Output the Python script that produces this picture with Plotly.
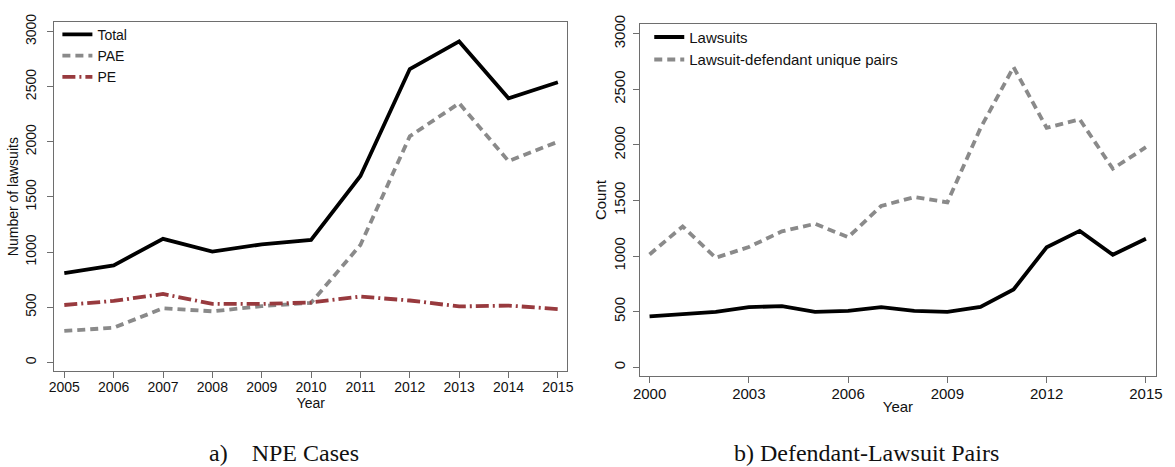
import plotly.graph_objects as go

# Panel a) NPE cases by filing year
years_a = [2005, 2006, 2007, 2008, 2009, 2010, 2011, 2012, 2013, 2014, 2015]
total = [810, 880, 1120, 1005, 1070, 1110, 1690, 2660, 2910, 2395, 2540]
pae = [285, 314, 490, 463, 510, 540, 1065, 2050, 2350, 1825, 2000]
pe = [520, 557, 620, 531, 530, 543, 596, 561, 507, 515, 483]

# Panel b) lawsuits vs. lawsuit-defendant pairs
years_b = list(range(2000, 2016))
lawsuits = [459, 479, 499, 541, 550, 499, 508, 541, 508, 499, 543, 700, 1080, 1227, 1012, 1156]
pairs = [1015, 1267, 985, 1082, 1223, 1291, 1170, 1451, 1531, 1484, 2151, 2700, 2154, 2230, 1786, 1980]

yticks = [0, 500, 1000, 1500, 2000, 2500, 3000]
xticks_b = [2000, 2003, 2006, 2009, 2012, 2015]

FONT = "Liberation Sans, Arial, sans-serif"
SERIF = "Liberation Serif, serif"
BLACK = "#000000"
GRAY = "#8a8a8a"
MAROON = "#983a3e"
AXIS = "#6e6e6e"
TEXT = "#111111"
LW = 3.8
W = 1175
H = 467

fig = go.Figure()

fig.add_trace(go.Scatter(x=years_a, y=total, mode="lines", name="Total",
                         line=dict(color=BLACK, width=LW), xaxis="x", yaxis="y",
                         legend="legend"))
fig.add_trace(go.Scatter(x=years_a, y=pae, mode="lines", name="PAE",
                         line=dict(color=GRAY, width=LW, dash="8px,5px"),
                         xaxis="x", yaxis="y", legend="legend"))
fig.add_trace(go.Scatter(x=years_a, y=pe, mode="lines", name="PE",
                         line=dict(color=MAROON, width=LW, dash="13px,4px,2px,4px"),
                         xaxis="x", yaxis="y", legend="legend"))

fig.add_trace(go.Scatter(x=years_b, y=lawsuits, mode="lines", name="Lawsuits",
                         line=dict(color=BLACK, width=LW), xaxis="x2", yaxis="y2",
                         legend="legend2"))
fig.add_trace(go.Scatter(x=years_b, y=pairs, mode="lines",
                         name="Lawsuit-defendant unique pairs",
                         line=dict(color=GRAY, width=LW, dash="8px,5px"),
                         xaxis="x2", yaxis="y2", legend="legend2"))


def px_x(v):
    return v / W


def px_y(v):
    return (H - v) / H


def axis_style(size):
    return dict(showline=True, linecolor=AXIS, linewidth=1, mirror=True,
                ticks="outside", ticklen=6, tickcolor=AXIS, tickwidth=1,
                showgrid=False, zeroline=False,
                tickfont=dict(family=FONT, size=size, color=TEXT))


fig.update_layout(
    width=W, height=H,
    margin=dict(l=0, r=0, t=0, b=0),
    paper_bgcolor="white", plot_bgcolor="white",
    font=dict(family=FONT, size=14, color=TEXT),
    xaxis=dict(domain=[px_x(48), px_x(567)], anchor="y",
               range=[2004.8, 2015.19], tickvals=years_a, ticklabelstandoff=-3,
               title=dict(text="Year", standoff=0, font=dict(size=14)),
               **axis_style(14)),
    yaxis=dict(domain=[px_y(369.3), px_y(13.3)], anchor="x",
               range=[-80, 3086], tickvals=yticks, tickangle=-90,
               ticklabelstandoff=6,
               title=dict(text="Number of lawsuits", standoff=0, font=dict(size=14)),
               **axis_style(14)),
    xaxis2=dict(domain=[px_x(640.7), px_x(1162.7)], anchor="y2",
                range=[1999.713, 2015.3], tickvals=xticks_b, ticklabelstandoff=-2,
                title=dict(text="Year", standoff=0, font=dict(size=15)),
                **axis_style(15)),
    yaxis2=dict(domain=[px_y(374.3), px_y(15.3)], anchor="x2",
                range=[-79, 3088], tickvals=yticks, tickangle=-90,
                ticklabelstandoff=2,
                title=dict(text="Count", standoff=0, font=dict(size=15)),
                **axis_style(15)),
    legend=dict(x=px_x(51), y=px_y(10), xanchor="left", yanchor="top",
                bgcolor="rgba(0,0,0,0)", borderwidth=0,
                font=dict(family=FONT, size=14, color=TEXT)),
    legend2=dict(x=px_x(650), y=px_y(12), xanchor="left", yanchor="top",
                 bgcolor="rgba(0,0,0,0)", borderwidth=0,
                 font=dict(family=FONT, size=15, color=TEXT)),
    showlegend=True,
)

# Panel captions
fig.add_annotation(text="a)&nbsp;&nbsp;&nbsp;&nbsp;NPE Cases", x=px_x(280), y=px_y(453),
                   xref="paper", yref="paper", xanchor="center", yanchor="middle",
                   showarrow=False, font=dict(family=SERIF, size=24, color=TEXT))
fig.add_annotation(text="b) Defendant-Lawsuit Pairs", x=px_x(870), y=px_y(453),
                   xref="paper", yref="paper", xanchor="center", yanchor="middle",
                   showarrow=False, font=dict(family=SERIF, size=24, color=TEXT))

fig.write_html("out.html")
